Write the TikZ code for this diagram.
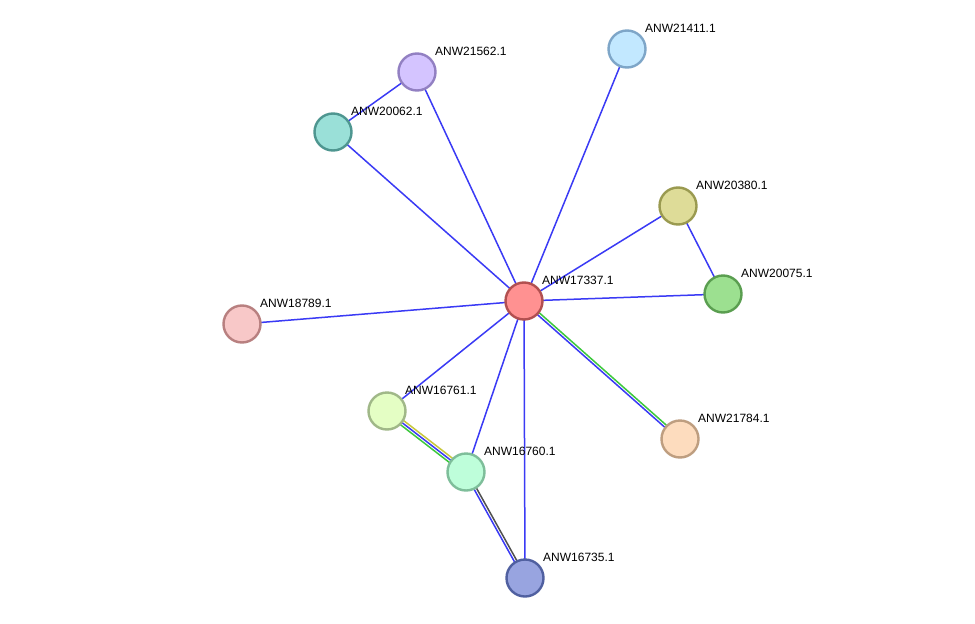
\documentclass[tikz,border=0pt]{standalone}
\usepackage{fontspec}
\setmainfont{Liberation Sans}
\usetikzlibrary{calc}
\pgfdeclarelayer{canvas}
\pgfdeclarelayer{background}
\pgfsetlayers{canvas,background,main}
\definecolor{edgeblue}{HTML}{3A3AF5}
\definecolor{edgegreen}{HTML}{3CC83C}
\definecolor{edgeyellow}{HTML}{C8C83C}
\definecolor{edgegrey}{HTML}{505050}
\tikzset{
  prot/.style={circle, minimum size=37pt, inner sep=0pt, line width=2.4pt},
  lbl/.style={anchor=west, font=\fontsize{12pt}{13pt}\selectfont, inner sep=0pt},
  edge/.style={line width=1.5pt, edgeblue},
}
\begin{document}
\begin{tikzpicture}[x=1pt,y=-1pt]
\begin{pgfonlayer}{canvas}
\fill[white] (0,0) rectangle (975,624);
\end{pgfonlayer}
\useasboundingbox (0,0) rectangle (975,624);
\node[prot, fill={rgb,255:red,255;green,145;blue,145}, draw={rgb,255:red,178;green,80;blue,80}] (c) at (524,301) {};
\node[prot, fill={rgb,255:red,194;green,232;blue,255}, draw={rgb,255:red,126;green,166;blue,200}] (n21411) at (627,49) {};
\node[prot, fill={rgb,255:red,212;green,196;blue,255}, draw={rgb,255:red,146;green,128;blue,194}] (n21562) at (417,72) {};
\node[prot, fill={rgb,255:red,154;green,224;blue,216}, draw={rgb,255:red,78;green,150;blue,144}] (n20062) at (333,132) {};
\node[prot, fill={rgb,255:red,222;green,220;blue,152}, draw={rgb,255:red,154;green,154;blue,80}] (n20380) at (678,206) {};
\node[prot, fill={rgb,255:red,156;green,224;blue,144}, draw={rgb,255:red,90;green,158;blue,80}] (n20075) at (723,294) {};
\node[prot, fill={rgb,255:red,248;green,200;blue,200}, draw={rgb,255:red,184;green,128;blue,128}] (n18789) at (242,324) {};
\node[prot, fill={rgb,255:red,228;green,254;blue,196}, draw={rgb,255:red,160;green,184;blue,136}] (n16761) at (387,411) {};
\node[prot, fill={rgb,255:red,190;green,254;blue,218}, draw={rgb,255:red,126;green,190;blue,154}] (n16760) at (466,472) {};
\node[prot, fill={rgb,255:red,253;green,220;blue,190}, draw={rgb,255:red,190;green,158;blue,128}] (n21784) at (680,439) {};
\node[prot, fill={rgb,255:red,152;green,164;blue,224}, draw={rgb,255:red,80;green,96;blue,160}] (n16735) at (525,578) {};

\foreach \n/\t in {c/ANW17337.1, n21411/ANW21411.1, n21562/ANW21562.1, n20062/ANW20062.1, n20380/ANW20380.1, n20075/ANW20075.1, n18789/ANW18789.1, n16761/ANW16761.1, n16760/ANW16760.1, n21784/ANW21784.1, n16735/ANW16735.1}
  \node[lbl] (l\n) at ($(\n)+(18,-21)$) {\t};

\begin{pgfonlayer}{background}
\foreach \m in {n21411,n21562,n20062,n20380,n20075,n18789,n16761,n16760,n16735}
  \draw[edge] (c.center) -- (\m.center);
\draw[edge] (n21562.center) -- (n20062.center);
\draw[edge] (n20380.center) -- (n20075.center);
% c - 21784: blue + green
\draw[edge] ($(c.center)!1.3pt!-90:(n21784.center)$) -- ($(n21784.center)!1.3pt!90:(c.center)$);
\draw[edge, edgegreen] ($(c.center)!1.3pt!90:(n21784.center)$) -- ($(n21784.center)!1.3pt!-90:(c.center)$);
% 16761 - 16760: yellow, blue, green
\draw[edge, edgeyellow] ($(n16761.center)!2.6pt!90:(n16760.center)$) -- ($(n16760.center)!2.6pt!-90:(n16761.center)$);
\draw[edge] (n16761.center) -- (n16760.center);
\draw[edge, edgegreen] ($(n16761.center)!2.6pt!-90:(n16760.center)$) -- ($(n16760.center)!2.6pt!90:(n16761.center)$);
% 16760 - 16735: blue + grey
\draw[edge] ($(n16760.center)!1.3pt!-90:(n16735.center)$) -- ($(n16735.center)!1.3pt!90:(n16760.center)$);
\draw[edge, edgegrey] ($(n16760.center)!1.3pt!90:(n16735.center)$) -- ($(n16735.center)!1.3pt!-90:(n16760.center)$);
\end{pgfonlayer}
\end{tikzpicture}
\end{document}
